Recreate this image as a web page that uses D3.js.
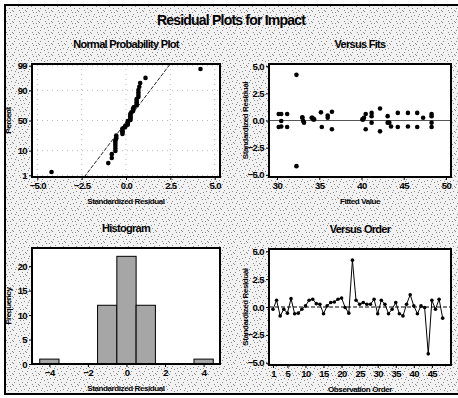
<!DOCTYPE html>
<html>
<head>
<meta charset="utf-8">
<script src="https://cdn.jsdelivr.net/npm/d3@7"></script>
<style>
  body { margin: 0; background: #fff; }
  text { font-family: "Liberation Sans", Arial, sans-serif; font-weight: bold; fill: #000; }
</style>
</head>
<body>
<div id="chart"></div>
<script>
// standardized residuals in observation order
const residuals = [-0.2, 0.6, -0.8, -0.2, -0.55, 0.75, -0.6, -0.55, -0.2, 0.1,
  0.6, 0.7, 0.3, 0.25, -0.6, 0.1, 0.4, 0.45, 0.7, 0.8,
  -0.05, -0.55, 4.2, 0.6, 0.25, 0.4, 0.25, 0.25, 0.7, -0.6,
  0.6, 0.25, -0.6, -0.2, 0.4, -0.6, -0.8, 0.25, 1.1, 0.1,
  -0.6, 0.1, -0.05, -4.2, 0.6, -0.2, 0.7, -1.0];
// fitted values, same order
const fits = [33.2, 30.2, 36.5, 41.2, 30.5, 35.2, 31.2, 43.5, 48.3, 34.4,
  31.2, 44.3, 33.0, 34.1, 35.3, 40.2, 43.1, 36.0, 46.6, 36.5,
  30.5, 45.5, 32.3, 30.5, 33.0, 41.2, 34.2, 40.3, 45.5, 30.2,
  48.3, 47.3, 44.3, 43.1, 48.3, 46.6, 40.5, 36.0, 42.2, 40.1,
  48.3, 34.3, 33.1, 32.3, 40.5, 43.3, 41.2, 42.2];

const probTicks = [1, 10, 50, 90, 99];
const residTicks = [-5, -2.5, 0, 2.5, 5];
const fitTicks = [30, 35, 40, 45, 50];
const histTicks = [-4, -2, 0, 2, 4];
const freqTicks = [0, 5, 10, 15, 20];
const orderTicks = [1, 5, 10, 15, 20, 25, 30, 35, 40, 45];

const W = 458, H = 398;

// inverse normal cdf (Acklam approximation)
function probit(p) {
  const a = [-39.6968302866538, 220.946098424521, -275.928510446969, 138.357751867269, -30.6647980661472, 2.50662827745924];
  const b = [-54.4760987982241, 161.585836858041, -155.698979859887, 66.8013118877197, -13.2806815528857];
  const c = [-0.00778489400243029, -0.322396458041136, -2.40075827716184, -2.54973253934373, 4.37466414146497, 2.93816398269878];
  const d = [0.00778469570904146, 0.32246712907004, 2.445134137143, 3.75440866190742];
  const pl = 0.02425;
  let q, r;
  if (p < pl) {
    q = Math.sqrt(-2 * Math.log(p));
    return (((((c[0]*q+c[1])*q+c[2])*q+c[3])*q+c[4])*q+c[5]) / ((((d[0]*q+d[1])*q+d[2])*q+d[3])*q+1);
  } else if (p <= 1 - pl) {
    q = p - 0.5; r = q * q;
    return (((((a[0]*r+a[1])*r+a[2])*r+a[3])*r+a[4])*r+a[5])*q / (((((b[0]*r+b[1])*r+b[2])*r+b[3])*r+b[4])*r+1);
  }
  q = Math.sqrt(-2 * Math.log(1 - p));
  return -(((((c[0]*q+c[1])*q+c[2])*q+c[3])*q+c[4])*q+c[5]) / ((((d[0]*q+d[1])*q+d[2])*q+d[3])*q+1);
}

const svg = d3.select('#chart').append('svg')
  .attr('width', W)
  .attr('height', H);

// speckled grey background like the scanned original
const pat = svg.append('defs').append('pattern')
  .attr('id', 'speck').attr('width', 13).attr('height', 11)
  .attr('patternUnits', 'userSpaceOnUse');
pat.append('rect').attr('width', 13).attr('height', 11).attr('fill', '#f2f2f2');
[[0, 0], [7, 1], [3, 3], [11, 4], [5, 6], [9, 8], [1, 8], [12, 10], [6, 10], [2, 5], [10, 1], [8, 5]].forEach(p => {
  pat.append('rect').attr('x', p[0]).attr('y', p[1]).attr('width', 1).attr('height', 1).attr('fill', '#8a8a8a');
});

svg.append('rect').attr('width', W).attr('height', H).attr('fill', '#fff');
svg.append('rect')
  .attr('x', 5).attr('y', 5).attr('width', W).attr('height', 389)
  .attr('fill', 'url(#speck)').attr('stroke', '#000').attr('stroke-width', 2);

svg.append('text')
  .attr('x', 231).attr('y', 25)
  .attr('text-anchor', 'middle')
  .style('font-size', '14px').style('letter-spacing', '-0.8px')
  .text('Residual Plots for Impact');

function panel(x0, x1, y0, y1, xs, ys, opts) {
  const g = svg.append('g');
  g.append('rect')
    .attr('x', x0).attr('y', y0).attr('width', x1 - x0).attr('height', y1 - y0)
    .attr('fill', '#fff');
  const clipId = 'clip' + Math.round(x0) + Math.round(y0);
  g.append('clipPath').attr('id', clipId)
    .append('rect').attr('x', x0).attr('y', y0).attr('width', x1 - x0).attr('height', y1 - y0);

  const xa = g.append('g')
    .attr('transform', `translate(0,${y1})`)
    .call(d3.axisBottom(xs).tickValues(opts.xTicks).tickSize(3).tickPadding(2).tickFormat(opts.xFormat));
  const ya = g.append('g')
    .attr('transform', `translate(${x0},0)`)
    .call(d3.axisLeft(ys).tickValues(opts.yTicks).tickSize(3).tickPadding(2).tickFormat(opts.yFormat));
  [xa, ya].forEach(a => {
    a.select('.domain').remove();
    a.selectAll('text').style('font-size', '9.5px').style('letter-spacing', '-0.6px')
      .style('font-family', '"Liberation Sans", Arial, sans-serif').style('font-weight', 'bold');
  });

  g.append('text')
    .attr('x', (x0 + x1) / 2).attr('y', y0 - 16)
    .attr('text-anchor', 'middle')
    .style('font-size', '11px').style('letter-spacing', '-0.7px')
    .text(opts.title);
  g.append('text')
    .attr('x', (x0 + x1) / 2).attr('y', y1 + 27)
    .attr('text-anchor', 'middle')
    .style('font-size', '8px').style('letter-spacing', '-0.4px')
    .text(opts.xLabel);
  g.append('text')
    .attr('transform', `translate(${x0 - 21},${(y0 + y1) / 2}) rotate(-90)`)
    .attr('text-anchor', 'middle')
    .style('font-size', '8px').style('letter-spacing', '-0.4px')
    .text(opts.yLabel);

  const inner = g.append('g').attr('clip-path', `url(#${clipId})`);
  // frame drawn last
  g.append('rect')
    .attr('x', x0).attr('y', y0).attr('width', x1 - x0).attr('height', y1 - y0)
    .attr('fill', 'none').attr('stroke', '#000').attr('stroke-width', 2);
  return inner;
}

// ---- Normal probability plot
const npX = d3.scaleLinear().domain([-5.3, 5.3]).range([32, 220]);
const npY = d3.scaleLinear().domain([-2.4, 2.4]).range([177, 64]);
const probZ = probTicks.map(p => probit(p / 100));
const np = panel(32, 220, 64, 177, npX, npY, {
  xTicks: residTicks, xFormat: d3.format('.1f'),
  yTicks: probZ, yFormat: (d, i) => probTicks[i],
  title: 'Normal Probability Plot', xLabel: 'Standardized Residual', yLabel: 'Percent'
});
np.selectAll('.vgrid').data(residTicks).enter().append('line')
  .attr('x1', d => npX(d)).attr('x2', d => npX(d))
  .attr('y1', 64).attr('y2', 177)
  .attr('stroke', '#bbb').attr('stroke-dasharray', '1,4');
np.selectAll('.hgrid').data(probZ).enter().append('line')
  .attr('x1', 32).attr('x2', 220)
  .attr('y1', d => npY(d)).attr('y2', d => npY(d))
  .attr('stroke', '#bbb').attr('stroke-dasharray', '1,4');
const mean = d3.mean(residuals), sd = d3.deviation(residuals);
np.append('line')
  .attr('x1', npX(mean + sd * -2.4)).attr('y1', npY(-2.4))
  .attr('x2', npX(mean + sd * 2.4)).attr('y2', npY(2.4))
  .attr('stroke', '#222').attr('stroke-width', 1).attr('stroke-dasharray', '4,1.5');
const sorted = residuals.slice().sort(d3.ascending);
const n = sorted.length;
np.selectAll('circle').data(sorted).enter().append('circle')
  .attr('cx', d => npX(d))
  .attr('cy', (d, i) => npY(probit((i + 1 - 0.3) / (n + 0.4))))
  .attr('r', 2.3).attr('fill', '#000');

// ---- Versus fits
const vfX = d3.scaleLinear().domain([29.05, 50.6]).range([269, 451]);
const vfY = d3.scaleLinear().domain([-5.2, 5.2]).range([177, 64]);
const vf = panel(269, 451, 64, 177, vfX, vfY, {
  xTicks: fitTicks, xFormat: d3.format('d'),
  yTicks: residTicks, yFormat: d3.format('.1f'),
  title: 'Versus Fits', xLabel: 'Fitted Value', yLabel: 'Standardized Residual'
});
vf.append('line')
  .attr('x1', 269).attr('x2', 451).attr('y1', vfY(0)).attr('y2', vfY(0))
  .attr('stroke', '#555').attr('stroke-width', 1.2);
vf.selectAll('circle').data(residuals).enter().append('circle')
  .attr('cx', (d, i) => vfX(fits[i]))
  .attr('cy', d => vfY(d))
  .attr('r', 2.3).attr('fill', '#000');

// ---- Histogram
const hiX = d3.scaleLinear().domain([-4.9, 4.85]).range([32, 220]);
const hiY = d3.scaleLinear().domain([0, 23.7]).range([364, 248]);
const hi = panel(32, 220, 248, 364, hiX, hiY, {
  xTicks: histTicks, xFormat: d3.format('d'),
  yTicks: freqTicks, yFormat: d3.format('d'),
  title: 'Histogram', xLabel: 'Standardized Residual', yLabel: 'Frequency'
});
const bins = d3.bin().domain([-4.5, 4.5]).thresholds(d3.range(-3.5, 4.5, 1))(residuals)
  .filter(b => b.length > 0);
hi.selectAll('rect').data(bins).enter().append('rect')
  .attr('x', d => hiX(d.x0))
  .attr('y', d => hiY(d.length))
  .attr('width', d => hiX(d.x1) - hiX(d.x0))
  .attr('height', d => hiY(0) - hiY(d.length))
  .attr('fill', '#a6a6a6').attr('stroke', '#000').attr('stroke-width', 1);

// ---- Versus order
const voX = d3.scaleLinear().domain([-0.1, 50.3]).range([269, 451]);
const voY = d3.scaleLinear().domain([-5.2, 5.2]).range([365, 249]);
const vo = panel(269, 451, 249, 365, voX, voY, {
  xTicks: orderTicks, xFormat: d3.format('d'),
  yTicks: residTicks, yFormat: d3.format('.1f'),
  title: 'Versus Order', xLabel: 'Observation Order', yLabel: 'Standardized Residual'
});
vo.append('line')
  .attr('x1', 269).attr('x2', 451).attr('y1', voY(0)).attr('y2', voY(0))
  .attr('stroke', '#000').attr('stroke-width', 1).attr('stroke-dasharray', '4,2');
vo.append('path')
  .datum(residuals)
  .attr('d', d3.line().x((d, i) => voX(i + 1)).y(d => voY(d)))
  .attr('fill', 'none').attr('stroke', '#000').attr('stroke-width', 1);
vo.selectAll('circle').data(residuals).enter().append('circle')
  .attr('cx', (d, i) => voX(i + 1))
  .attr('cy', d => voY(d))
  .attr('r', 1.8).attr('fill', '#000');
</script>
</body>
</html>
